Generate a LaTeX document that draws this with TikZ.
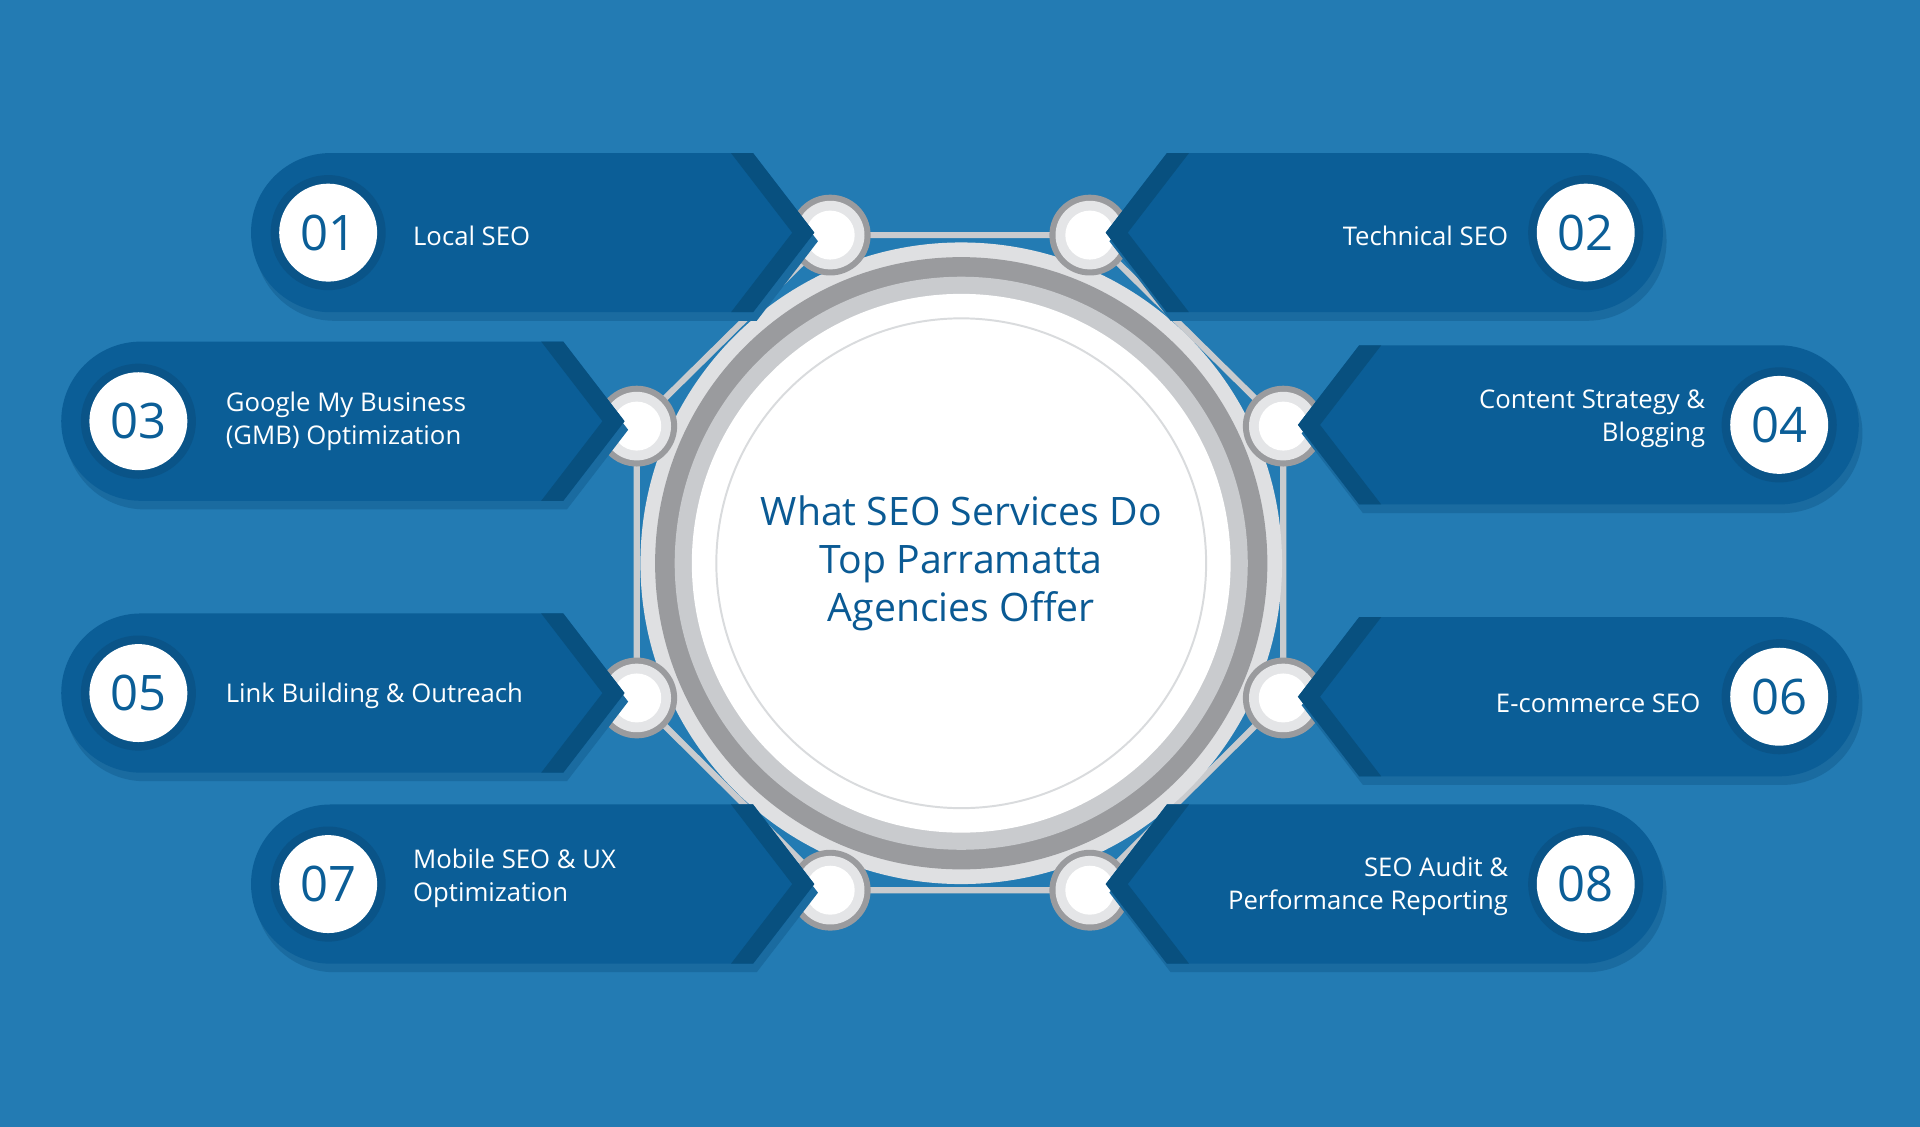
\documentclass[tikz,border=0pt]{standalone}
\usepackage{fontspec}
\setmainfont{Open Sans}
\definecolor{bg}{HTML}{237BB3}
\definecolor{ban}{HTML}{0B5E97}
\definecolor{band}{HTML}{08507F}
\definecolor{shd}{HTML}{1A6BA0}
\definecolor{ring}{HTML}{0A5488}
\definecolor{ttl}{HTML}{0A5A94}
\definecolor{lg}{HTML}{C9CBCE}
\definecolor{mg}{HTML}{9A9B9E}
\tikzset{
  lbl/.style={text=white,font=\fontsize{10.5}{13.5}\selectfont,inner sep=0pt},
  num/.style={text=ban,font=\fontsize{20}{20}\selectfont},
  link/.style={draw=lg,line width=2.5pt}
}
\newcommand{\lban}[3]{% L, T, C
  \fill[shd] ({#1+65+3},{#3+65-7}) -- ({#2-50+3},{#3+65-7}) -- ({#2+3},{#3-7}) -- ({#2-50+3},{#3-65-7}) -- ({#1+65+3},{#3-65-7}) arc[start angle=270,end angle=90,radius=65] -- cycle;
  \fill[ban] ({#1+65},{#3+65}) -- ({#2-50},{#3+65}) -- (#2,#3) -- ({#2-50},{#3-65}) -- ({#1+65},{#3-65}) arc[start angle=270,end angle=90,radius=65] -- cycle;
  \fill[band] ({#2-68},{#3+65}) -- ({#2-50},{#3+65}) -- (#2,#3) -- ({#2-50},{#3-65}) -- ({#2-68},{#3-65}) -- ({#2-18},#3) -- cycle;}
\newcommand{\rban}[3]{% R, T, C
  \fill[shd] ({#1-65+3},{#3+65-7}) -- ({#2+50+3},{#3+65-7}) -- ({#2+3},{#3-7}) -- ({#2+50+3},{#3-65-7}) -- ({#1-65+3},{#3-65-7}) arc[start angle=-90,end angle=90,radius=65] -- cycle;
  \fill[ban] ({#1-65},{#3+65}) -- ({#2+50},{#3+65}) -- (#2,#3) -- ({#2+50},{#3-65}) -- ({#1-65},{#3-65}) arc[start angle=-90,end angle=90,radius=65] -- cycle;
  \fill[band] ({#2+68},{#3+65}) -- ({#2+50},{#3+65}) -- (#2,#3) -- ({#2+50},{#3-65}) -- ({#2+68},{#3-65}) -- ({#2+18},#3) -- cycle;}
\newcommand{\numc}[3]{% x,y,text
  \fill[ring] (#1,#2) circle (47);
  \fill[white] (#1,#2) circle (40);
  \node[num] at (#1,#2) {#3};}
\begin{document}
\begin{tikzpicture}[x=0.5pt,y=0.5pt]
\fill[bg] (0,0) rectangle (1568,920);
\useasboundingbox (0,0) rectangle (1568,920);
\coordinate (c1) at (678,728); \coordinate (c2) at (890,728);
\coordinate (c3) at (520,572); \coordinate (c4) at (1048,572);
\coordinate (c5) at (520,350); \coordinate (c6) at (1048,350);
\coordinate (c7) at (678,193); \coordinate (c8) at (890,193);
\draw[link] (c1)--(c2)--(c4)--(c6)--(c8)--(c7)--(c5)--(c3)--cycle;
\fill[lg!60] (785,460) circle (262);
\fill[mg] (785,460) circle (250);
\fill[lg] (785,460) circle (234);
\fill[white] (785,460) circle (220);
\draw[lg!70,line width=0.8pt] (785,460) circle (200);
\node[text=ttl,align=center,font=\fontsize{16}{19.5}\selectfont] (title) at (785,460) {What SEO Services Do\\Top Parramatta\\Agencies Offer};
\foreach \c in {c1,c2,c3,c4,c5,c6,c7,c8}{
  \fill[mg] (\c) circle (33);
  \fill[lg!50] (\c) circle (28);
  \fill[white] (\c) circle (20);}
\lban{205}{665}{730}
\lban{50}{510}{576}
\lban{50}{510}{354}
\lban{205}{665}{198}
\rban{1358}{903}{730}
\rban{1518}{1060}{573}
\rban{1518}{1060}{351}
\rban{1358}{903}{198}
\numc{268}{730}{01}
\numc{113}{576}{03}
\numc{113}{354}{05}
\numc{268}{198}{07}
\numc{1295}{730}{02}
\numc{1453}{573}{04}
\numc{1453}{351}{06}
\numc{1295}{198}{08}
\node[lbl,anchor=west] (t1) at (337,727) {Local SEO};
\node[lbl,anchor=west,align=left] (t3) at (184,576) {Google My Business\\(GMB) Optimization};
\node[lbl,anchor=west] (t5) at (184,352) {Link Building \& Outreach};
\node[lbl,anchor=west,align=left] (t7) at (337,203) {Mobile SEO \& UX\\Optimization};
\node[lbl,anchor=east] (t2) at (1232,727) {Technical SEO};
\node[lbl,anchor=east,align=right] (t4) at (1393,578) {Content Strategy \&\\Blogging};
\node[lbl,anchor=east] (t6) at (1389,346) {E-commerce SEO};
\node[lbl,anchor=east,align=right] (t8) at (1232,196) {SEO Audit \&\\Performance Reporting};
\end{tikzpicture}
\end{document}
